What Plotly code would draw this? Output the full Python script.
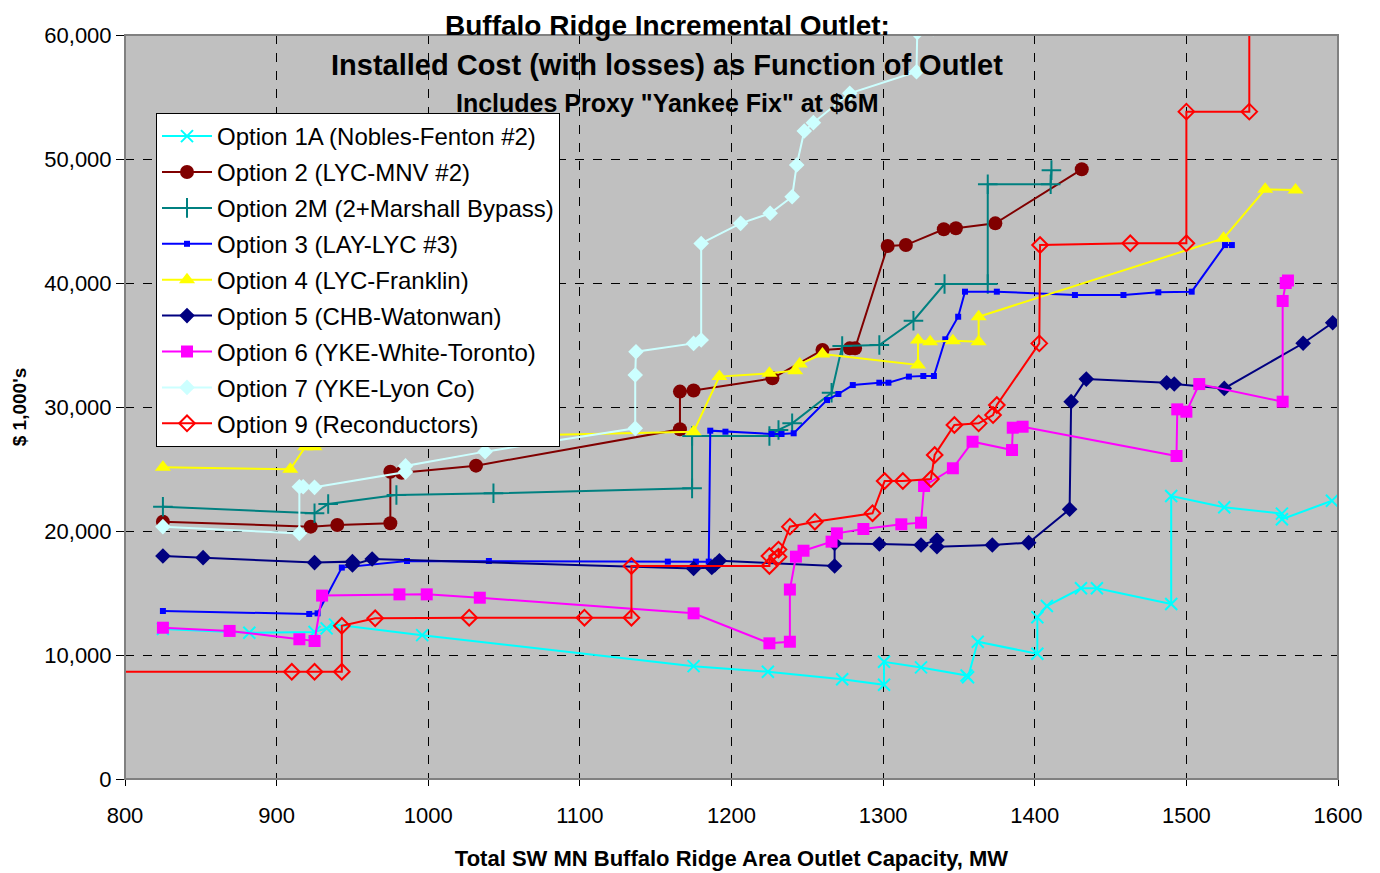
import plotly.graph_objects as go

# ---------------- data (MW, $1,000's) ----------------
opt1a_x = [825, 882, 925, 933, 938.5, 996, 1175, 1224, 1273, 1300.6, 1300.6, 1325, 1355, 1356, 1362.4, 1401.7, 1401.7, 1408, 1430.5, 1441, 1490, 1490, 1525, 1563, 1563, 1596]
opt1a_y = [12100, 11800, 11850, 12150, 12450, 11600, 9100, 8650, 8050, 7600, 9450, 9000, 8350, 8200, 11070, 10100, 13040, 13950, 15380, 15380, 14110, 22820, 21910, 21400, 20950, 22440]

opt2_x = [825, 922.5, 940, 975, 975, 982.5, 1031.5, 1166, 1166, 1175, 1227, 1260, 1278, 1281.5, 1303, 1315, 1340, 1348, 1374, 1431]
opt2_y = [20750, 20350, 20480, 20620, 24780, 24700, 25270, 28200, 31240, 31330, 32310, 34600, 34730, 34730, 42980, 43060, 44330, 44410, 44810, 49170]

opt2m_x = [825, 925, 934, 979, 1043, 1174, 1174, 1225, 1231, 1240, 1266, 1273, 1297.5, 1320, 1340.5, 1369, 1369, 1410.5, 1411]
opt2m_y = [21960, 21430, 22180, 22900, 23040, 23440, 27660, 27660, 28150, 28680, 31150, 34920, 35000, 36960, 39920, 39920, 47960, 47960, 49100]

opt3_x = [825, 921.5, 927, 943, 986, 1040, 1158, 1176.5, 1185, 1186, 1196, 1226.5, 1233, 1241, 1263, 1270.5, 1280, 1297.5, 1303.5, 1317, 1326.5, 1333.5, 1341, 1349.5, 1354, 1375, 1426.5, 1458.5, 1481.5, 1503.5, 1525.5, 1530]
opt3_y = [13550, 13310, 13360, 17050, 17580, 17580, 17530, 17530, 17530, 28090, 28010, 27820, 27820, 27880, 30560, 31050, 31770, 31960, 31960, 32450, 32500, 32500, 35460, 37280, 39300, 39300, 39030, 39030, 39250, 39300, 43060, 43060]

opt4_x = [825, 909, 919, 925, 1026, 1175, 1192, 1225, 1242, 1245, 1260, 1323, 1323, 1331, 1346, 1363, 1363, 1524.5, 1552, 1572]
opt4_y = [25150, 24980, 26800, 26800, 27600, 28010, 32450, 32720, 32930, 33470, 34270, 33390, 35400, 35270, 35350, 35270, 37280, 43600, 47560, 47500]

opt5_x = [825, 851.5, 925, 950, 950, 963, 1175, 1187, 1189, 1192, 1268, 1268, 1297.5, 1325, 1335.5, 1335.5, 1372, 1396, 1423, 1424, 1434, 1487, 1492, 1525, 1577, 1596.5, 1620]
opt5_y = [17980, 17850, 17450, 17530, 17260, 17740, 16980, 17060, 17260, 17600, 17180, 18990, 18950, 18870, 19270, 18730, 18870, 19060, 21750, 30430, 32250, 31960, 31850, 31500, 35140, 36800, 36800]

opt6_x = [825, 869, 915, 925, 930, 981, 999, 1034, 1175, 1225, 1238.5, 1238.5, 1242.5, 1247.5, 1266, 1269.5, 1287, 1312, 1325, 1327, 1346, 1359, 1385, 1385.5, 1392, 1493.5, 1494, 1500, 1508.5, 1563.5, 1563.5, 1565.5, 1567]
opt6_y = [12200, 11940, 11270, 11130, 14790, 14890, 14890, 14620, 13360, 10940, 11070, 15280, 17930, 18410, 19140, 19810, 20160, 20540, 20670, 23630, 25060, 27200, 26530, 28330, 28410, 26050, 29810, 29620, 31850, 30430, 38550, 40000, 40200]

opt7_x = [825, 915, 915, 917.5, 925, 985, 985, 1037.5, 1136.5, 1136.5, 1137, 1175, 1180, 1180, 1206, 1225.5, 1240, 1243, 1248, 1254, 1278, 1322, 1322.5, 1333]
opt7_y = [20350, 19810, 23570, 23570, 23520, 24750, 25250, 26400, 28280, 32580, 34460, 35130, 35400, 43190, 44810, 45620, 46960, 49520, 52260, 52930, 55300, 57040, 60200, 60500]

opt9_x = [790, 910, 925, 943, 943, 965, 1027, 1103, 1134, 1134, 1225, 1225, 1231, 1231, 1238.5, 1255, 1293, 1301, 1313, 1331.5, 1334, 1347, 1363, 1372.5, 1375, 1403, 1403.5, 1463, 1500, 1500, 1541.5, 1541.5]
opt9_y = [8650, 8650, 8650, 8650, 12360, 12960, 13010, 13010, 13010, 17180, 17180, 17980, 18500, 17930, 20350, 20750, 21430, 24030, 24030, 24190, 26130, 28550, 28680, 29350, 30160, 35130, 43060, 43200, 43200, 53820, 53820, 62000]

names = ["Option 1A (Nobles-Fenton #2)", "Option 2 (LYC-MNV #2)", "Option 2M (2+Marshall Bypass)",
         "Option 3 (LAY-LYC #3)", "Option 4 (LYC-Franklin)", "Option 5 (CHB-Watonwan)",
         "Option 6 (YKE-White-Toronto)", "Option 7 (YKE-Lyon Co)", "Option 9 (Reconductors)"]
colors = ["#00FFFF", "#800000", "#008080", "#0000FF", "#FFFF00", "#000080", "#FF00FF", "#CCFFFF", "#FF0000"]
symbols = ["x-thin-open", "circle", "cross-thin-open", "square", "triangle-up", "diamond", "square", "diamond", "diamond-open"]
sizes = [12, 14, 14, 6, 14, 12, 12, 12, 12]

series = [(opt1a_x, opt1a_y), (opt2_x, opt2_y), (opt2m_x, opt2m_y), (opt3_x, opt3_y), (opt4_x, opt4_y),
          (opt5_x, opt5_y), (opt6_x, opt6_y), (opt7_x, opt7_y), (opt9_x, opt9_y)]

FONT = "Arial, 'Liberation Sans', sans-serif"

fig = go.Figure()
for i, ((xs, ys), nm, c, sym, sz) in enumerate(zip(series, names, colors, symbols, sizes)):
    mline = dict(width=2, color=c) if sym.endswith("open") else dict(width=0)
    fig.add_trace(go.Scatter(
        x=xs, y=ys, mode="lines+markers", name=nm, legendgroup=f"g{i}",
        line=dict(color=c, width=2),
        marker=dict(symbol=sym, size=sz, color=c, line=mline),
        cliponaxis=True,
    ))

grid = dict(showgrid=True, gridcolor="black", griddash="dash", gridwidth=1)
fig.update_xaxes(range=[800, 1600], dtick=100, tick0=800, showline=True, linecolor="black", linewidth=1,
                 ticks="outside", ticklen=6, tickcolor="black", zeroline=False, automargin=False,
                 ticklabelstandoff=11,
                 tickfont=dict(family=FONT, size=22, color="black"),
                 title=dict(text="<b>Total SW MN Buffalo Ridge Area Outlet Capacity, MW</b>",
                            font=dict(family=FONT, size=22, color="black"), standoff=23),
                 **grid)
fig.update_yaxes(range=[0, 60000], dtick=10000, tickformat=",", showline=True, linecolor="black", linewidth=1,
                 ticks="outside", ticklen=8, tickcolor="black", zeroline=False, automargin=False,
                 tickfont=dict(family=FONT, size=22, color="black"),
                 title=dict(text="<b>$ 1,000's</b>", font=dict(family=FONT, size=19, color="black"), standoff=12),
                 **grid)

fig.add_shape(type="rect", xref="paper", yref="paper", x0=0, x1=1, y0=0, y1=1,
              line=dict(color="#808080", width=2), layer="above")

# page pixel -> paper coordinates (plot area spans x 125..1338, y 35..779 on the page)
def px2paper_x(px):
    return (px - 125) / 1213.0

def px2paper_y(py):
    return (779 - py) / 744.0

# first title line is anchored at the very top of the figure (page y = 8) so it is not clipped
fig.add_annotation(text="<b>Buffalo Ridge Incremental Outlet:</b>", xref="paper", yref="paper",
                   x=px2paper_x(667), y=px2paper_y(8), xanchor="center", yanchor="top", showarrow=False,
                   font=dict(family=FONT, size=28, color="black"))
titles = [("<b>Installed Cost (with losses) as Function of Outlet</b>", 65, 29),
          ("<b>Includes Proxy \"Yankee Fix\" at $6M</b>", 103, 25)]
for txt, py, fs in titles:
    fig.add_annotation(text=txt, xref="paper", yref="paper", x=px2paper_x(667), y=px2paper_y(py),
                       xanchor="center", yanchor="middle", showarrow=False,
                       font=dict(family=FONT, size=fs, color="black"))

# the page body has an 8px margin, so the figure is shifted by (8, 8)
fig.update_layout(
    width=1372, height=865,
    margin=dict(l=117, r=42, t=27, b=94, autoexpand=False),
    paper_bgcolor="white", plot_bgcolor="#C0C0C0",
    font=dict(family=FONT, color="black"),
    showlegend=True,
    legend=dict(x=px2paper_x(156), y=px2paper_y(113), xanchor="left", yanchor="top",
                bgcolor="white", bordercolor="black", borderwidth=1,
                font=dict(family=FONT, size=24, color="black"),
                tracegroupgap=1.7, traceorder="grouped", itemwidth=50),
)

fig.write_html("out.html")
